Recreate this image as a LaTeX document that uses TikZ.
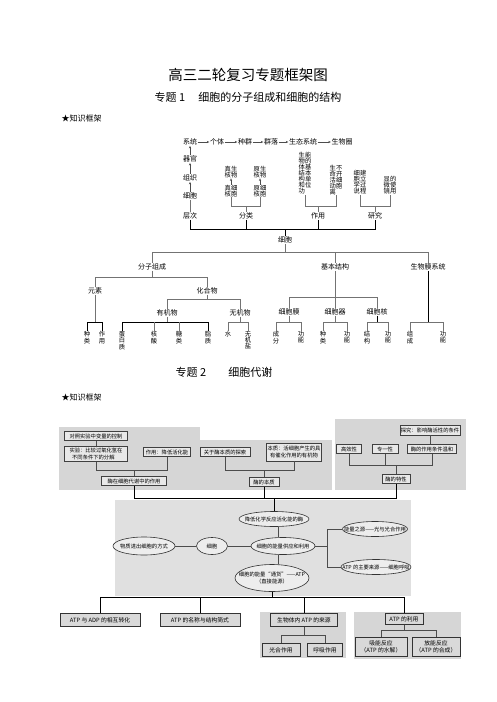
\documentclass[tikz,border=0pt]{standalone}
\usepackage{fontspec}
\setmainfont{Noto Sans CJK SC}
\usetikzlibrary{arrows.meta,shapes.geometric}
\begin{document}
\begin{tikzpicture}[x=1pt,y=-1pt,
 lab/.style={inner sep=0.5pt, font=\fontsize{7}{7}\selectfont},
 vlab/.style={inner sep=0.3pt, align=left, font=\fontsize{6.3}{6}\selectfont},
 vch/.style={inner sep=0.3pt, align=center, anchor=north, font=\fontsize{6.3}{6.3}\selectfont},
 gry/.style={draw=black!55, line width=0.6pt},
 blk/.style={draw=black, line width=0.9pt},
 arr/.style={draw=black!70, line width=0.5pt, -{Stealth[length=2.5pt,width=2.2pt]}},
 box/.style={draw=black!75, line width=0.7pt, fill=black!9, inner sep=1pt, font=\fontsize{5.3}{6.2}\selectfont, minimum height=9pt},
 bbox/.style={draw=black!80, line width=0.9pt, fill=black!15, inner sep=1pt, font=\fontsize{5.8}{6.6}\selectfont, minimum height=13pt},
 ell/.style={ellipse, draw=black!80, line width=0.6pt, fill=black!7, inner xsep=-14pt, inner ysep=-3pt, font=\fontsize{5.3}{6.4}\selectfont},
 cn/.style={draw=black!70, line width=0.6pt},
 mainln/.style={draw=black, line width=1pt},
 panel/.style={fill=black!16}]
\useasboundingbox (0,0) rectangle (496,702);
\fill[white] (0,0) rectangle (496,702);

% headings
\node[font=\fontsize{14.5}{16}\selectfont] (title) at (248,75) {高三二轮复习专题框架图};
\node[font=\fontsize{11}{12}\selectfont] (sub1) at (248,97) {专题 1\hspace{1.2em}细胞的分子组成和细胞的结构};
\node[font=\fontsize{8}{9}\selectfont, anchor=west] (kj1) at (58,118) {★知识框架};
\node[font=\fontsize{11}{12}\selectfont] (sub2) at (224,372) {专题 2\hspace{2em}细胞代谢};
\node[font=\fontsize{8}{9}\selectfont, anchor=west] (kj2) at (58,397) {★知识框架};

% level coordinates
\coordinate (y206) at (0,206);
\coordinate (y229) at (0,229);
\coordinate (y252) at (0,252);
\coordinate (y277) at (0,277);
\coordinate (y297) at (0,297);
\coordinate (y299) at (0,299);
\coordinate (y322) at (0,322);

% ---------- diagram 1 ----------
\node[lab] (xt) at (190,142) {系统};
\node[lab] (gt) at (217,142) {个体};
\node[lab] (zq) at (245,142) {种群};
\node[lab] (ql) at (271,142) {群落};
\node[lab] (st) at (303,142) {生态系统};
\node[lab] (swq) at (342,142) {生物圈};
\draw[arr] (xt) -- (gt);
\draw[arr] (gt) -- (zq);
\draw[arr] (zq) -- (ql);
\draw[arr] (ql) -- (st);
\draw[arr] (st) -- (swq);

\node[lab] (qg) at (190,159) {器官};
\node[lab] (zz) at (190,178) {组织};
\node[lab] (xb) at (190,196) {细胞};
\node[lab] (cc) at (190,216) {层次};
\draw[arr] (qg) -- (xt);
\draw[arr] (zz) -- (qg);
\draw[arr] (xb) -- (zz);
\draw[gry] (cc) -- (xb);

\node[vlab] (zhsw) at (231,172) {真生\\核物};
\node[vlab] (yhsw) at (260,172) {原生\\核物};
\node[vlab] (zhxb) at (231,191) {真细\\核胞};
\node[vlab] (yhxb) at (260,191) {原细\\核胞};
\draw[arr] (zhxb) -- (zhsw);
\draw[arr] (yhxb) -- (yhsw);
\node[lab] (fl) at (246,216) {分类};
\draw[gry] (zhxb.south) -- (zhxb.south |- y206) -| (yhxb.south);
\draw[gry] (fl.north) -- (fl.north |- y206);

\node[vlab, anchor=south] (zy1) at (305,195) {生能\\物的\\体基\\结本\\构单\\和位\\功};
\node[vlab, anchor=south] (zy2) at (336,195) {生不\\命开\\活细\\动胞\\离};
\node[lab] (zy) at (318,216) {作用};
\draw[gry] (zy1.south) -- (zy1.south |- y206) -| (zy2.south);
\draw[gry] (zy.north) -- (zy.north |- y206);

\node[vlab, anchor=south] (yj1) at (360,195) {细建\\胞立\\学过\\说程};
\node[vlab, anchor=south] (yj2) at (390,195) {显的\\微使\\镜用};
\node[lab] (yj) at (375,216) {研究};
\draw[gry] (yj1.south) -- (yj1.south |- y206) -| (yj2.south);
\draw[gry] (yj.north) -- (yj.north |- y206);

\draw[blk] (cc.south) -- (cc.south |- y229) -| (yj.south);
\draw[blk] (fl.south) -- (fl.south |- y229);
\draw[blk] (zy.south) -- (zy.south |- y229);
\node[lab] (xb2) at (285,240) {细胞};
\draw[blk] (xb2.north) -- (xb2.north |- y229);

\node[lab] (fzzc) at (152,267) {分子组成};
\node[lab] (jbjg) at (335,267) {基本结构};
\node[lab] (swmxt) at (428,267) {生物膜系统};
\draw[gry] (xb2.south) -- (xb2.south |- y252);
\draw[gry] (fzzc.north) -- (fzzc.north |- y252) -| (swmxt.north);
\draw[gry] (jbjg.north) -- (jbjg.north |- y252);

\node[lab] (ys) at (95,291) {元素};
\node[lab] (hhw) at (207,291) {化合物};
\draw[gry] (fzzc.south) -- (fzzc.south |- y277);
\draw[gry] (ys.north) -- (ys.north |- y277) -| (hhw.north);

\node[vch] (zl) at (87,331) {种\\类};
\node[vch] (zy3) at (102,331) {作\\用};
\draw[gry] (ys.south) -- (ys.south |- y322);
\draw[blk] (zl.north) -- (zl.north |- y322) -| (zy3.north);

\node[lab] (yjw) at (167,313) {有机物};
\node[lab] (wjw) at (240,313) {无机物};
\draw[gry] (hhw.south) -- (hhw.south |- y299);
\draw[gry] (yjw.north) -- (yjw.north |- y299) -| (wjw.north);

\node[vch] (dbz) at (122,331) {蛋\\白\\质};
\node[vch] (hs) at (154,331) {核\\酸};
\node[vch] (tl) at (179,331) {糖\\类};
\node[vch] (zz2) at (208,331) {脂\\质};
\draw[gry] (yjw.south) -- (yjw.south |- y322);
\draw[blk] (dbz.north) -- (dbz.north |- y322) -| (zz2.north);
\draw[gry] (hs.north) -- (hs.north |- y322);
\draw[gry] (tl.north) -- (tl.north |- y322);

\node[vch] (sw) at (228,331) {水};
\node[vch] (wjy) at (248,331) {无\\机\\盐};
\draw[gry] (wjw.south) -- (wjw.south |- y322);
\draw[gry] (sw.north) -- (sw.north |- y322) -| (wjy.north);

\node[lab] (xbm) at (289,312) {细胞膜};
\node[lab] (xbq) at (335,312) {细胞器};
\node[lab] (xbh) at (377,312) {细胞核};
\draw[gry] (jbjg.south) -- (jbjg.south |- y297);
\draw[gry] (xbm.north) -- (xbm.north |- y297) -| (xbh.north);
\draw[gry] (xbq.north) -- (xbq.north |- y297);

\node[vch] (cf) at (276,331) {成\\分};
\node[vch] (gn1) at (301,331) {功\\能};
\node[vch] (zl2) at (323,331) {种\\类};
\node[vch] (gn2) at (347,331) {功\\能};
\node[vch] (jg) at (367,331) {结\\构};
\node[vch] (gn3) at (388,331) {功\\能};
\draw[gry] (xbm.south) -- (xbm.south |- y322);
\draw[gry] (cf.north) -- (cf.north |- y322) -| (gn1.north);
\draw[gry] (xbq.south) -- (xbq.south |- y322);
\draw[gry] (zl2.north) -- (zl2.north |- y322) -| (gn2.north);
\draw[blk] (xbh.south) -- (xbh.south |- y322);
\draw[gry] (jg.north) -- (jg.north |- y322) -| (gn3.north);

\node[vch] (zc) at (410,331) {组\\成};
\node[vch] (gn4) at (443,331) {功\\能};
\draw[blk] (swmxt.south) -- (swmxt.south |- y322);
\draw[gry] (zc.north) -- (zc.north |- y322) -| (gn4.north);

% ---------- diagram 2 ----------
\coordinate (y465) at (0,465);
\coordinate (y470) at (0,470);
\coordinate (y498) at (0,498);
\coordinate (y597) at (0,597);
\coordinate (y630) at (0,630);
\coordinate (y635) at (0,635);

\fill[panel] (59,427) rectangle (200,490);
\fill[panel] (200,440) rectangle (332,490);
\fill[panel] (335,419) rectangle (466,490);
\fill[fill=black!12] (115,500) rectangle (411,596);
\fill[panel] (260,612) rectangle (346,658);
\fill[panel] (354,612) rectangle (461,659);

\node[box, minimum width=63pt] (b11) at (96,436) {对照实验中变量的控制};
\node[box, minimum width=63pt, minimum height=15pt, align=left] (b12) at (96,454) {实验：比较过氧化氢在\\\hspace*{0.5em}不同条件下的分解};
\node[box, minimum width=47pt] (b13) at (167,452) {作用：降低活化能};
\node[box, minimum width=65pt] (b14) at (134,481) {酶在细胞代谢中的作用};
\draw[cn] (b11) -- (b12);
\draw[cn] (b12.south) -- (b12.south |- y470) -| (b13.south);
\draw[cn] (b14.north) -- (b14.north |- y470);

\node[box, minimum width=50pt] (b21) at (225,452) {关于酶本质的探索};
\node[box, minimum width=54pt, minimum height=18pt, align=center] (b22) at (294,452) {本质：活细胞产生的具\\有催化作用的有机物};
\node[box, minimum width=30pt] (b23) at (264,482) {酶的本质};
\draw[cn] (b21.south) -- (b21.south |- y470) -| (b22.south);
\draw[cn] (b23.north) -- (b23.north |- y470);

\node[box, minimum width=57pt, minimum height=10pt] (b31) at (430,430) {探究：影响酶活性的条件};
\node[box, minimum width=25pt] (b32) at (349,449) {高效性};
\node[box, minimum width=26pt] (b33) at (385,449) {专一性};
\node[box, minimum width=49pt] (b34) at (432,449) {酶的作用条件温和};
\node[box, minimum width=28pt] (b35) at (396,479) {酶的特性};
\draw[cn] (b31.south) -- (b31.south |- b34.north);
\draw[cn] (b32.south) -- (b32.south |- y465) -| (b34.south);
\draw[cn] (b33.south) -- (b33.south |- y465);
\draw[cn] (b35.north) -- (b35.north |- y465);

\node[ell, minimum width=70pt, minimum height=15pt] (e1) at (274,519) {降低化学反应活化能的酶};
\node[ell, minimum width=64pt, minimum height=17pt] (e2) at (283,546) {细胞的能量供应和利用};
\node[ell, minimum width=65pt, minimum height=15pt] (e3) at (375,529) {能量之源——光与光合作用};
\node[ell, minimum width=70pt, minimum height=15pt] (e4) at (376,567) {ATP 的主要来源——细胞呼吸};
\node[ell, minimum width=74pt, minimum height=27pt, align=center] (e5) at (272,578) {细胞的能量“通货”——ATP\\（直接能源）};
\node[ell, minimum width=31pt, minimum height=17pt] (e6) at (212,546) {细胞};
\node[ell, minimum width=62pt, minimum height=18pt] (e7) at (144,546) {物质进出细胞的方式};
\coordinate (vx) at (278,0);
\coordinate (rj) at (327,546);
\draw[cn] (e2.north -| vx) -- (e1.south -| vx);
\draw[cn] (e2.south -| vx) -- (e5.north -| vx);
\draw[cn] (e2.west) -- (e6.east);
\draw[cn] (e6.west) -- (e7.east);
\draw[cn] (e2.east) -- (rj);
\draw[cn] (e3.west) -- (e3.west -| rj) -- (e4.west -| rj) -- (e4.west);

\draw[mainln] (b14.south) -- (b14.south |- y498) -| (b35.south);
\draw[mainln] (b23.south) -- (b23.south |- y498);
\draw[mainln] (e1.north) -- (e1.north |- y498);

\node[bbox, minimum width=80pt] (c1) at (100,620) {ATP 与 ADP 的相互转化};
\node[bbox, minimum width=80pt] (c2) at (200,620) {ATP 的名称与结构简式};
\node[bbox, minimum width=67pt] (c3) at (304,620) {生物体内 ATP 的来源};
\node[bbox, minimum width=38pt] (c31) at (281,650) {光合作用};
\node[bbox, minimum width=35pt] (c32) at (325,650) {呼吸作用};
\node[bbox, minimum width=38pt, minimum height=11pt] (c4) at (404,619) {ATP 的利用};
\node[bbox, minimum width=52pt, minimum height=19pt, align=center] (c41) at (381,647) {吸能反应\\（ATP 的水解）};
\node[bbox, minimum width=48pt, minimum height=19pt, align=center] (c42) at (436,647) {放能反应\\（ATP 的合成）};
\draw[cn] (c3.south) -- (c3.south |- y635);
\draw[cn] (c31.north) -- (c31.north |- y635) -| (c32.north);
\draw[cn] (c4.south) -- (c4.south |- y630);
\draw[cn] (c41.north) -- (c41.north |- y630) -| (c42.north);

\draw[mainln] (e5.south) -- (e5.south |- y597);
\draw[mainln] (c1.north) -- (c1.north |- y597) -| (c4.north);
\draw[mainln] (c2.north) -- (c2.north |- y597);
\draw[mainln] (c3.north) -- (c3.north |- y597);
\end{tikzpicture}
\end{document}
